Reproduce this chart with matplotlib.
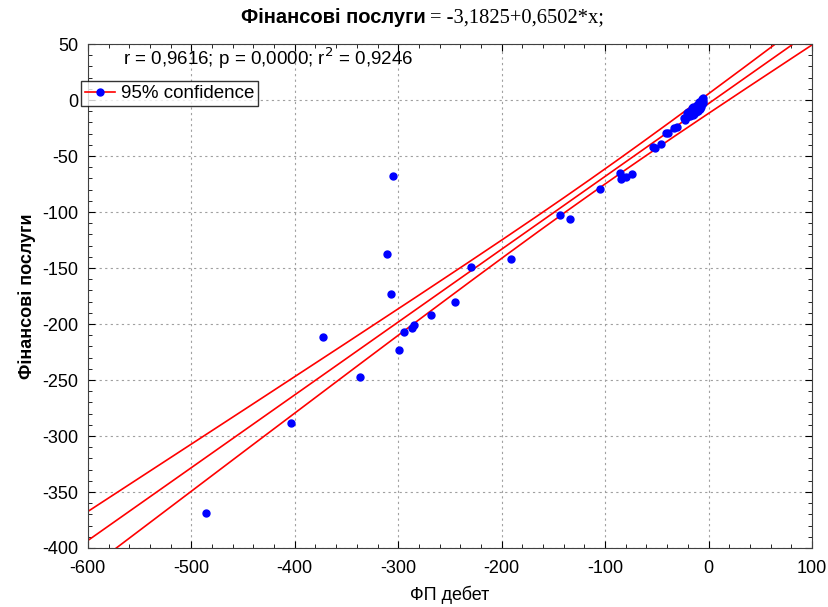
import numpy as np
import matplotlib.pyplot as plt
from matplotlib.lines import Line2D
from matplotlib.ticker import MultipleLocator

# data (the blob near zero holds overlapping dots)
fp_debit = [-486, -403.6, -372.5, -337, -305, -311, -307, -299, -294.5, -287, -285,
            -268.5, -245, -229.6, -191, -143.7, -134, -105,
            -85.7, -84.7, -79.8, -74.3,
            -53.5, -51.8, -46.3, -41.2, -39, -33.2, -30.8,
            -23.8, -21.2, -19.6, -16.3, -14.8, -13.1, -11.5, -9, -6.7, -5.7,
            -22.5, -20.4, -18.0, -15.5, -12.4, -10.2, -8.1, -7.5, -6.2, -5.0,
            -17.2, -14.0, -9.8, -7.0, -5.5]
fin_services = [-369, -288, -211.6, -247, -68, -137.5, -173, -223, -207, -203.6, -201,
                -192, -180, -149, -142, -102.7, -106, -79.5,
                -65.5, -70.5, -68.5, -66,
                -41.7, -42.6, -39.5, -29.7, -29.7, -25.3, -23.8,
                -16.3, -11.9, -10.4, -7.4, -6, -11, -4.5, -1.5, 0.6, 2,
                -17.5, -15.0, -14.5, -13.0, -10.5, -9.5, -8.0, -6.5, -4.0, -3.0,
                -12.0, -12.5, -8.5, -3.5, -1.0]

intercept = -3.1825
slope = 0.6502

x = np.array(fp_debit)
y = np.array(fin_services)

# 95% confidence band of the fitted line
n = len(x)
resid = y - (intercept + slope * x)
s = np.sqrt(np.sum(resid ** 2) / (n - 2))
xm = x.mean()
sxx = np.sum((x - xm) ** 2)
t = 2.01
xs = np.linspace(-600, 100, 200)
fit = intercept + slope * xs
half = t * s * np.sqrt(1 / n + (xs - xm) ** 2 / sxx)

plt.rcParams['font.family'] = ['Liberation Sans', 'DejaVu Sans']
plt.rcParams['axes.unicode_minus'] = False

fig = plt.figure(figsize=(8.29, 6.07), dpi=100)
ax = fig.add_axes([0.106, 0.0972, 0.8735, 0.8303])

ax.plot(xs, fit, color='red', lw=1.2)
ax.plot(xs, fit + half, color='red', lw=1.2)
ax.plot(xs, fit - half, color='red', lw=1.2)
ax.plot(x, y, 'o', color='blue', ms=5, zorder=3)

ax.set_xlim(-600, 100)
ax.set_ylim(-400, 50)
ax.xaxis.set_major_locator(MultipleLocator(100))
ax.xaxis.set_minor_locator(MultipleLocator(20))
ax.yaxis.set_major_locator(MultipleLocator(50))
ax.yaxis.set_minor_locator(MultipleLocator(10))
ax.tick_params(which='both', direction='in', top=True, right=True, labelsize=13)
ax.tick_params(axis='x', pad=9)
ax.tick_params(axis='y', pad=7)
ax.tick_params(which='major', length=5)
ax.tick_params(which='minor', length=3)
ax.grid(True, which='major', linestyle=(0, (2, 3)), color='#a0a0a0', lw=0.8)
for sp in ax.spines.values():
    sp.set_color('#404040')

ax.set_xlabel('ФП дебет', fontsize=13, labelpad=6)
ax.set_ylabel('Фінансові послуги', fontsize=13, fontweight='bold', labelpad=4)

ax.text(0.048, 0.972, 'r = 0,9616; p = 0,0000; r$^2$ = 0,9246', transform=ax.transAxes,
        fontsize=13.5, va='center', ha='left')

handle = Line2D([0], [0], color='red', lw=1.2, marker='o', markerfacecolor='blue',
                markeredgecolor='blue', ms=5)
leg = ax.legend([handle], ['95% confidence'], loc='upper left', bbox_to_anchor=(-0.009, 0.926),
                fontsize=13.5, frameon=True, fancybox=False, handlelength=1.6,
                handletextpad=0.3, borderpad=0.2, borderaxespad=0)
leg.get_frame().set_edgecolor('black')
leg.get_frame().set_linewidth(1.0)

fig.text(0.514, 0.971, 'Фінансові послуги', ha='right', va='center', fontsize=14.5,
         fontweight='bold')
fig.text(0.519, 0.971, '= -3,1825+0,6502*x;', ha='left', va='center', fontsize=14.8,
         family=['Liberation Serif', 'DejaVu Serif'])

fig.savefig('out.png', dpi=100)
